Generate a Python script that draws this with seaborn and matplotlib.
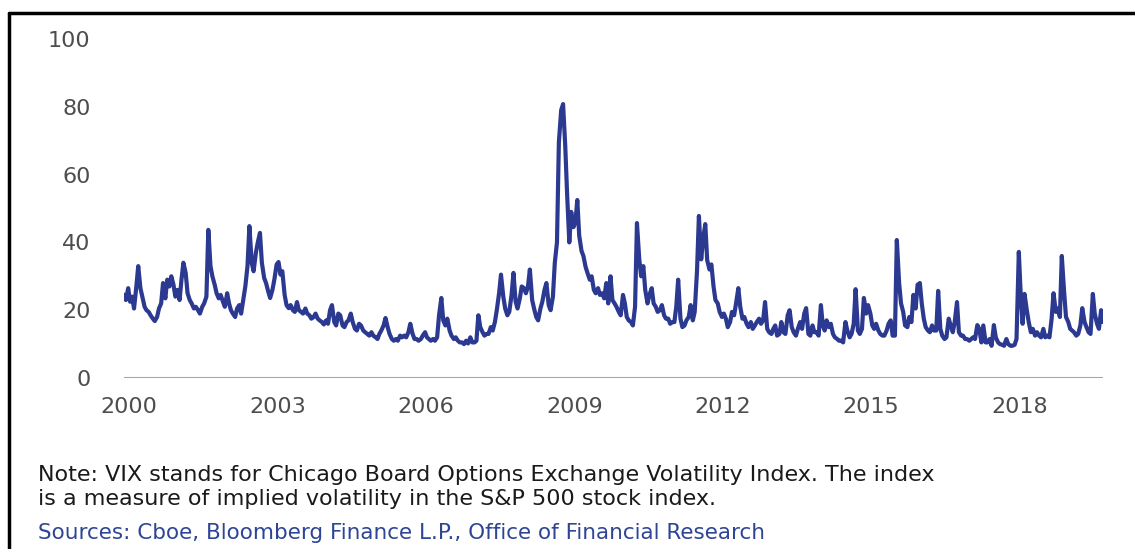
import numpy as np
import pandas as pd
import seaborn as sns
import matplotlib.pyplot as plt
import matplotlib.transforms as mtransforms
from matplotlib.lines import Line2D

# VIX, semi-monthly readings (1st and 15th of each month)
vix_2000 = [24.6, 23.0, 26.5, 22.5, 24.0, 20.5, 27.0, 33.0, 26.5, 24.0, 21.0, 20.0,
            19.5, 18.5, 17.5, 16.8, 18.0, 20.5, 22.0, 28.0, 23.5, 29.0, 27.0, 30.0]
vix_2001 = [27.5, 24.0, 26.0, 23.0, 29.0, 34.0, 31.0, 25.0, 23.0, 22.0, 20.5, 21.0,
            20.0, 19.0, 21.0, 22.0, 24.0, 43.7, 33.0, 30.0, 27.5, 25.0, 23.5, 24.5]
vix_2002 = [22.5, 21.0, 25.0, 22.0, 20.0, 19.0, 18.0, 20.5, 21.5, 19.0, 23.5, 27.0,
            33.0, 44.8, 34.0, 31.5, 37.0, 40.0, 42.8, 34.0, 29.5, 28.0, 25.5, 23.6]
vix_2003 = [26.0, 29.0, 33.5, 34.2, 30.5, 31.5, 24.5, 21.5, 20.6, 21.5, 20.0, 19.5,
            22.4, 20.0, 19.5, 19.0, 20.5, 19.0, 18.5, 17.5, 18.0, 19.0, 17.5, 17.0]
vix_2004 = [16.5, 15.8, 17.0, 16.0, 20.0, 21.5, 16.5, 15.5, 19.0, 18.5, 15.5, 15.0,
            16.5, 17.0, 19.0, 16.5, 14.5, 14.0, 16.0, 15.5, 14.0, 13.5, 13.0, 12.5]
vix_2005 = [13.5, 12.5, 12.0, 11.5, 13.0, 14.0, 15.5, 17.7, 15.0, 13.0, 11.5, 11.0,
            11.5, 11.0, 12.5, 12.0, 12.5, 12.0, 13.5, 16.0, 13.0, 11.5, 11.5, 11.0]
vix_2006 = [11.5, 12.5, 13.5, 12.0, 11.5, 11.0, 11.5, 11.0, 12.0, 18.5, 23.6, 17.0,
            15.5, 17.5, 14.0, 12.5, 11.5, 12.0, 11.0, 10.5, 10.5, 10.0, 11.0, 10.2]
vix_2007 = [12.0, 10.5, 10.5, 11.0, 18.5, 15.0, 13.5, 12.5, 13.0, 13.0, 15.0, 14.0,
            16.5, 20.0, 25.0, 30.5, 24.0, 20.5, 18.5, 19.5, 24.5, 31.0, 22.5, 20.5]
vix_2008 = [23.5, 27.0, 26.5, 25.0, 27.0, 32.0, 23.0, 20.5, 18.0, 17.0, 20.5, 22.5,
            26.0, 28.0, 21.5, 20.0, 24.0, 34.0, 40.0, 69.5, 79.0, 80.8, 68.5, 54.0]
vix_2009 = [40.0, 49.0, 44.5, 46.0, 52.5, 42.0, 37.5, 36.0, 32.8, 31.0, 29.0, 30.0,
            26.0, 25.0, 26.5, 24.5, 25.0, 23.5, 28.0, 22.0, 30.0, 23.0, 22.0, 21.0]
vix_2010 = [19.5, 18.5, 24.5, 22.0, 18.0, 17.0, 16.5, 15.5, 21.0, 45.7, 35.0, 30.0,
            33.0, 26.0, 22.0, 24.5, 26.5, 22.0, 21.0, 19.5, 20.0, 21.5, 18.5, 17.5]
vix_2011 = [17.5, 16.0, 16.5, 16.5, 21.0, 29.0, 17.5, 15.0, 15.5, 17.0, 18.0, 21.5,
            17.0, 19.5, 31.5, 47.8, 35.0, 41.0, 45.4, 34.8, 32.0, 33.5, 27.0, 23.0]
vix_2012 = [22.0, 19.5, 18.0, 19.0, 17.5, 15.0, 16.5, 19.5, 18.5, 22.0, 26.5, 21.0,
            17.5, 18.0, 16.0, 15.0, 16.5, 14.5, 15.5, 16.5, 17.5, 16.0, 17.0, 22.4]
vix_2013 = [14.5, 13.5, 13.0, 14.5, 15.5, 12.5, 13.0, 16.5, 13.5, 13.0, 18.5, 20.0,
            15.0, 13.5, 12.5, 14.5, 16.5, 14.5, 19.0, 20.6, 13.0, 12.5, 15.5, 13.5]
vix_2014 = [13.5, 12.5, 21.5, 15.5, 14.0, 17.0, 15.0, 16.0, 13.0, 12.0, 11.5, 11.0,
            11.0, 10.5, 16.5, 14.0, 12.0, 13.0, 16.0, 26.2, 14.0, 13.0, 14.5, 23.6]
vix_2015 = [19.0, 21.5, 19.0, 15.5, 14.5, 16.0, 14.0, 13.0, 12.5, 12.5, 14.0, 16.0,
            17.0, 12.5, 12.5, 40.7, 28.0, 22.0, 19.5, 15.5, 15.0, 18.0, 16.5, 24.5]
vix_2016 = [20.5, 27.5, 28.0, 22.0, 17.5, 15.0, 14.0, 13.5, 15.5, 14.0, 14.0, 25.7,
            14.5, 12.5, 11.5, 12.0, 17.5, 15.5, 13.5, 16.5, 22.4, 13.5, 12.5, 12.5]
vix_2017 = [11.5, 11.5, 11.0, 11.5, 12.0, 11.5, 15.6, 14.5, 10.5, 15.5, 10.5, 10.5,
            11.5, 9.5, 15.6, 12.0, 10.5, 10.0, 9.8, 9.5, 11.5, 10.0, 9.5, 9.5]
vix_2018 = [9.8, 11.5, 37.2, 24.5, 16.0, 24.8, 20.0, 16.5, 13.5, 14.5, 12.5, 13.5,
            12.5, 12.0, 14.5, 12.0, 12.5, 12.0, 17.5, 25.0, 19.5, 20.5, 18.0, 36.0]
vix_2019 = [25.5, 18.0, 16.5, 14.5, 14.0, 13.5, 12.5, 13.0, 15.5, 20.6, 16.5, 15.0,
            13.5, 13.0, 24.8, 19.0, 16.0, 14.5, 20.0, 16.5]

years = [2000, 2003, 2006, 2009, 2012, 2015, 2018]
y_ticks = [0, 20, 40, 60, 80, 100]

note_line1 = "Note: VIX stands for Chicago Board Options Exchange Volatility Index. The index"
note_line2 = "is a measure of implied volatility in the S&P 500 stock index."
source_text = "Sources: Cboe, Bloomberg Finance L.P., Office of Financial Research"

vix = (vix_2000 + vix_2001 + vix_2002 + vix_2003 + vix_2004 + vix_2005 + vix_2006
       + vix_2007 + vix_2008 + vix_2009 + vix_2010 + vix_2011 + vix_2012 + vix_2013
       + vix_2014 + vix_2015 + vix_2016 + vix_2017 + vix_2018 + vix_2019)

dates = pd.date_range("2000-01-01", periods=len(vix), freq="SMS")
df = pd.DataFrame({
    "year": dates.year + (dates.dayofyear - 1) / 365.0,
    "vix": vix,
})

sns.set_style("white")
plt.rcParams["font.family"] = ["DejaVu Sans"]

W, H = 1135, 549
fig = plt.figure(figsize=(W / 100, H / 100), dpi=100)
ax = fig.add_axes([124 / W, 1 - 378 / H, (1103 - 124) / W, (378 - 39) / H])

sns.lineplot(data=df, x="year", y="vix", ax=ax, color="#2b3990", linewidth=3.0)

# zero baseline
ax.axhline(0, color="#a6a6a6", linewidth=1.5, zorder=1)

ax.set_xlim(df["year"].min(), df["year"].max())
ax.set_ylim(0, 100)
ax.set_xticks(years)
ax.set_xticklabels([str(y) for y in years])
ax.set_yticks(y_ticks)
ax.tick_params(axis="both", length=0, labelsize=16, labelcolor="#4d4d4d")
ax.tick_params(axis="y", pad=24)
ax.tick_params(axis="x", pad=14)
ax.set_xlabel("")
ax.set_ylabel("")
for s in ax.spines.values():
    s.set_visible(False)

# year labels sit a little right of the year start
shift = mtransforms.ScaledTranslation(5 / 100, 0, fig.dpi_scale_trans)
for lbl in ax.get_xticklabels():
    lbl.set_transform(lbl.get_transform() + shift)

fig.text(38 / W, 1 - 475 / H, note_line1, fontsize=16, color="#1a1a1a",
         va="center", ha="left")
fig.text(38 / W, 1 - 499 / H, note_line2, fontsize=16, color="#1a1a1a",
         va="center", ha="left")
fig.text(38 / W, 1 - 533 / H, source_text, fontsize=15.5, color="#2e4596",
         va="center", ha="left")

# black frame on top and left
fig.add_artist(Line2D([9 / W, 1.0], [1 - 13 / H, 1 - 13 / H],
                      color="black", linewidth=2.5, transform=fig.transFigure))
fig.add_artist(Line2D([9 / W, 9 / W], [0.0, 1 - 13 / H],
                      color="black", linewidth=2.5, transform=fig.transFigure))

plt.savefig("out.png", dpi=100)
